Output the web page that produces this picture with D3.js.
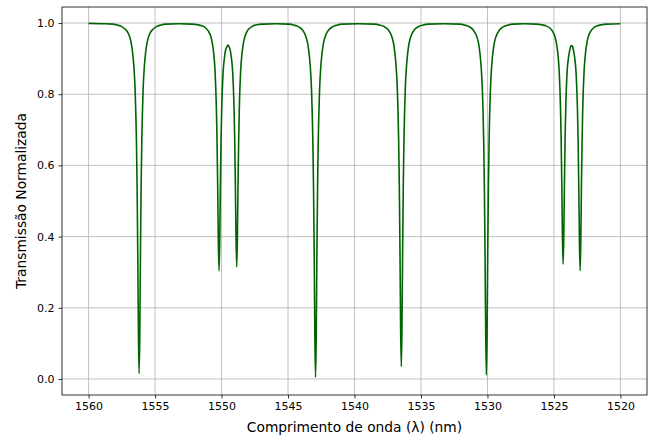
<!DOCTYPE html>
<html>
<head>
<meta charset="utf-8">
<script src="https://cdn.jsdelivr.net/npm/d3@7"></script>
<style>
  body { margin: 0; background: #fff; }
  svg { font-family: "DejaVu Sans", sans-serif; }
</style>
</head>
<body>
<svg id="chart" width="662" height="438"></svg>
<script>
// wavelength (nm), densest around the resonances
const wavelength = [
  1560.00, 1559.00, 1558.20, 1557.80, 1557.50, 1557.20, 1557.00, 1556.80, 1556.70, 1556.60,
  1556.50, 1556.40, 1556.35, 1556.30, 1556.25, 1556.20, 1556.15, 1556.10, 1556.05, 1556.00,
  1555.90, 1555.80, 1555.70, 1555.60, 1555.40, 1555.20, 1554.90, 1554.60, 1554.20, 1553.20,
  1552.19, 1551.79, 1551.49, 1551.19, 1550.99, 1550.79, 1550.69, 1550.59, 1550.49, 1550.39,
  1550.34, 1550.29, 1550.24, 1550.19, 1550.14, 1550.09, 1550.04, 1549.99, 1549.89, 1549.79,
  1549.69, 1549.59, 1549.525, 1549.46, 1549.36, 1549.26, 1549.16, 1549.06, 1549.01, 1548.96,
  1548.91, 1548.86, 1548.81, 1548.76, 1548.71, 1548.66, 1548.56, 1548.46, 1548.36, 1548.26,
  1548.06, 1547.86, 1547.56, 1547.26, 1546.86, 1545.90,
  1544.93, 1544.53, 1544.23, 1543.93, 1543.73, 1543.53, 1543.43, 1543.33, 1543.23, 1543.13,
  1543.08, 1543.03, 1542.98, 1542.93, 1542.88, 1542.83, 1542.78, 1542.73, 1542.63, 1542.53,
  1542.43, 1542.33, 1542.13, 1541.93, 1541.63, 1541.33, 1540.93, 1539.70,
  1538.48, 1538.08, 1537.78, 1537.48, 1537.28, 1537.08, 1536.98, 1536.88, 1536.78, 1536.68,
  1536.63, 1536.58, 1536.53, 1536.48, 1536.43, 1536.38, 1536.33, 1536.28, 1536.18, 1536.08,
  1535.98, 1535.88, 1535.68, 1535.48, 1535.18, 1534.88, 1534.48, 1533.28,
  1532.08, 1531.68, 1531.38, 1531.08, 1530.88, 1530.68, 1530.58, 1530.48, 1530.38, 1530.28,
  1530.23, 1530.18, 1530.13, 1530.08, 1530.03, 1529.98, 1529.93, 1529.88, 1529.78, 1529.68,
  1529.58, 1529.48, 1529.28, 1529.08, 1528.78, 1528.48, 1528.08, 1527.20,
  1526.31, 1525.91, 1525.61, 1525.31, 1525.11, 1524.91, 1524.81, 1524.71, 1524.61, 1524.51,
  1524.46, 1524.41, 1524.36, 1524.31, 1524.26, 1524.21, 1524.16, 1524.11, 1524.01, 1523.91,
  1523.81, 1523.73, 1523.67, 1523.61, 1523.53, 1523.43, 1523.33, 1523.23, 1523.18, 1523.13,
  1523.08, 1523.03, 1522.98, 1522.93, 1522.88, 1522.83, 1522.73, 1522.63, 1522.53, 1522.43,
  1522.23, 1522.03, 1521.73, 1521.43, 1521.03, 1520.00
];

// normalized transmission at each wavelength
const transmission = [
  0.999, 0.998, 0.997, 0.994, 0.990, 0.981, 0.970, 0.945, 0.920, 0.881,
  0.812, 0.665, 0.537, 0.350, 0.124, 0.015, 0.124, 0.350, 0.537, 0.665,
  0.812, 0.881, 0.920, 0.945, 0.970, 0.981, 0.990, 0.994, 0.997, 0.998,
  0.997, 0.995, 0.992, 0.986, 0.977, 0.960, 0.942, 0.915, 0.866, 0.762,
  0.673, 0.542, 0.384, 0.304, 0.379, 0.537, 0.667, 0.755, 0.857, 0.900,
  0.925, 0.934, 0.938, 0.935, 0.926, 0.903, 0.860, 0.760, 0.674, 0.546,
  0.392, 0.315, 0.392, 0.548, 0.676, 0.766, 0.868, 0.915, 0.943, 0.960,
  0.978, 0.986, 0.993, 0.996, 0.997, 0.998,
  0.997, 0.994, 0.990, 0.981, 0.969, 0.944, 0.919, 0.880, 0.810, 0.661,
  0.532, 0.343, 0.114, 0.005, 0.114, 0.343, 0.532, 0.661, 0.810, 0.880,
  0.919, 0.944, 0.969, 0.981, 0.990, 0.994, 0.997, 0.998,
  0.997, 0.994, 0.990, 0.982, 0.970, 0.946, 0.922, 0.883, 0.816, 0.671,
  0.546, 0.363, 0.141, 0.035, 0.141, 0.363, 0.546, 0.671, 0.816, 0.883,
  0.922, 0.946, 0.970, 0.982, 0.990, 0.994, 0.997, 0.998,
  0.997, 0.994, 0.990, 0.981, 0.969, 0.945, 0.920, 0.880, 0.811, 0.663,
  0.535, 0.347, 0.120, 0.011, 0.120, 0.347, 0.535, 0.663, 0.811, 0.880,
  0.920, 0.945, 0.969, 0.981, 0.990, 0.994, 0.997, 0.998,
  0.997, 0.995, 0.992, 0.986, 0.977, 0.960, 0.943, 0.916, 0.868, 0.768,
  0.680, 0.553, 0.398, 0.322, 0.396, 0.550, 0.676, 0.763, 0.862, 0.902,
  0.924, 0.935, 0.937, 0.935, 0.923, 0.900, 0.857, 0.757, 0.669, 0.539,
  0.383, 0.304, 0.385, 0.543, 0.674, 0.764, 0.866, 0.914, 0.942, 0.960,
  0.977, 0.986, 0.992, 0.995, 0.997, 0.998
];

const xTicks = [1560, 1555, 1550, 1545, 1540, 1535, 1530, 1525, 1520];
const yTicks = [0.0, 0.2, 0.4, 0.6, 0.8, 1.0];

const width = 662, height = 438;
const margin = { top: 7, right: 15, bottom: 43, left: 62 };
const plotW = width - margin.left - margin.right;
const plotH = height - margin.top - margin.bottom;

const svg = d3.select("#chart");
const chart = svg.append("g")
  .attr("transform", `translate(${margin.left}, ${margin.top})`);

// x axis runs from long to short wavelength
const xScale = d3.scaleLinear().domain([1562, 1518]).range([0, plotW]);
const yScale = d3.scaleLinear().domain([-0.045, 1.045]).range([plotH, 0]);

// grid
chart.append("g")
  .selectAll("line")
  .data(xTicks)
  .enter()
  .append("line")
  .attr("x1", d => xScale(d)).attr("x2", d => xScale(d))
  .attr("y1", 0).attr("y2", plotH)
  .attr("stroke", "#b0b0b0").attr("stroke-width", 0.8);

chart.append("g")
  .selectAll("line")
  .data(yTicks)
  .enter()
  .append("line")
  .attr("x1", 0).attr("x2", plotW)
  .attr("y1", d => yScale(d)).attr("y2", d => yScale(d))
  .attr("stroke", "#b0b0b0").attr("stroke-width", 0.8);

const points = wavelength.map((w, i) => [w, transmission[i]]);

const line = d3.line()
  .x(d => xScale(d[0]))
  .y(d => yScale(d[1]))
  .curve(d3.curveMonotoneX);

chart.append("path")
  .datum(points.slice().reverse())
  .attr("fill", "none")
  .attr("stroke", "#006400")
  .attr("stroke-width", 1.6)
  .attr("stroke-linejoin", "round")
  .attr("d", line);

// axes
const xAxis = chart.append("g")
  .attr("transform", `translate(0, ${plotH})`)
  .call(d3.axisBottom(xScale).tickValues(xTicks).tickSize(3.5).tickPadding(4).tickFormat(d3.format("d")));

const yAxis = chart.append("g")
  .call(d3.axisLeft(yScale).tickValues(yTicks).tickSize(3.5).tickPadding(4).tickFormat(d3.format(".1f")));

[xAxis, yAxis].forEach(ax => {
  ax.select(".domain").remove();
  ax.selectAll("line").attr("stroke", "#000").attr("stroke-width", 0.8);
  ax.selectAll("text").attr("font-size", 11).attr("fill", "#000")
    .attr("font-family", "DejaVu Sans, sans-serif");
});

// frame
chart.append("rect")
  .attr("x", 0).attr("y", 0)
  .attr("width", plotW).attr("height", plotH)
  .attr("fill", "none")
  .attr("stroke", "#000")
  .attr("stroke-width", 0.8);

chart.append("text")
  .attr("x", plotW / 2)
  .attr("y", plotH + 37)
  .attr("text-anchor", "middle")
  .attr("font-size", 13.8)
  .text("Comprimento de onda (λ) (nm)");

chart.append("text")
  .attr("transform", `translate(${-36}, ${plotH / 2}) rotate(-90)`)
  .attr("text-anchor", "middle")
  .attr("font-size", 13.8)
  .text("Transmissão Normalizada");
</script>
</body>
</html>
